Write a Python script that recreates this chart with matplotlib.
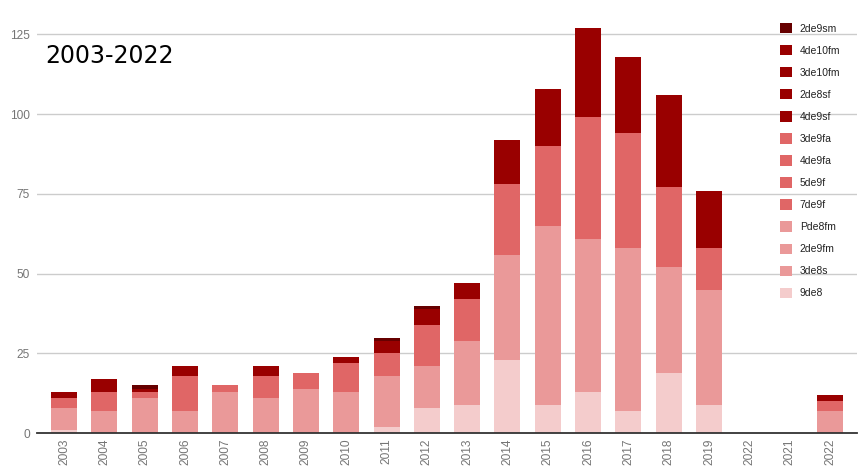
import matplotlib
matplotlib.use("Agg")
import matplotlib.pyplot as plt
from matplotlib.patches import Patch
import numpy as np

categories = ["2003", "2004", "2005", "2006", "2007", "2008", "2009", "2010",
              "2011", "2012", "2013", "2014", "2015", "2016", "2017", "2018",
              "2019", "2022", "2021", "2022"]

# stacking order bottom -> top
series_names = ["9de8", "3de8s", "2de9fm", "Pde8fm", "7de9f", "5de9f", "4de9fa",
                "3de9fa", "4de9sf", "2de8sf", "3de10fm", "4de10fm", "2de9sm"]

s_9de8 = [1, 0, 0, 0, 0, 0, 0, 0, 2, 8, 9, 23, 9, 13, 7, 19, 9, 0, 0, 0]
s_3de8s = [7, 7, 11, 7, 13, 11, 14, 13, 16, 13, 20, 33, 56, 48, 51, 33, 36, 0, 0, 7]
s_2de9fm = [0] * 20
s_Pde8fm = [0] * 20
s_7de9f = [3, 6, 2, 11, 2, 7, 5, 9, 7, 13, 13, 22, 25, 38, 36, 25, 13, 0, 0, 3]
s_5de9f = [0] * 20
s_4de9fa = [0] * 20
s_3de9fa = [0] * 20
s_4de9sf = [2, 4, 1, 3, 0, 3, 0, 2, 4, 5, 5, 14, 18, 28, 24, 29, 18, 0, 0, 2]
s_2de8sf = [0] * 20
s_3de10fm = [0] * 20
s_4de10fm = [0] * 20
s_2de9sm = [0, 0, 1, 0, 0, 0, 0, 0, 1, 1, 0, 0, 0, 0, 0, 0, 0, 0, 0, 0]

series_values = [s_9de8, s_3de8s, s_2de9fm, s_Pde8fm, s_7de9f, s_5de9f, s_4de9fa,
                 s_3de9fa, s_4de9sf, s_2de8sf, s_3de10fm, s_4de10fm, s_2de9sm]
series_colors = ["#f4cccc", "#ea9999", "#ea9999", "#ea9999", "#e06666", "#e06666",
                 "#e06666", "#e06666", "#990000", "#990000", "#990000", "#990000",
                 "#660000"]

y_ticks = [0, 25, 50, 75, 100, 125]

W, H = 858, 472
fig = plt.figure(figsize=(W / 100, H / 100), dpi=100)
ax = fig.add_axes([37 / W, 1 - 433.3 / H, 820 / W, (433.3 - 18.3) / H])

x = np.arange(len(categories))
bottom = np.zeros(len(categories))
for name, vals, col in zip(series_names, series_values, series_colors):
    v = np.array(vals, dtype=float)
    ax.bar(x, v, width=0.645, bottom=bottom, color=col, linewidth=0, label=name, zorder=3)
    bottom += v

ax.set_xlim(-0.67, len(categories) - 1 + 0.67)
ax.set_ylim(0, 130)
ax.set_yticks(y_ticks)
ax.set_yticklabels([str(t) for t in y_ticks])
ax.set_xticks(x)
ax.set_xticklabels(categories, rotation=90)

for lab in ax.get_yticklabels() + ax.get_xticklabels():
    lab.set_fontfamily("Liberation Sans")
    lab.set_fontsize(8.6)
    lab.set_color("#757575")
ax.tick_params(axis="both", length=0)
ax.tick_params(axis="y", pad=5)
ax.tick_params(axis="x", pad=4)

for t in y_ticks[1:]:
    ax.axhline(t, color="#cccccc", linewidth=1, zorder=1)
for s in ["top", "right", "left"]:
    ax.spines[s].set_visible(False)
ax.spines["bottom"].set_color("#333333")
ax.spines["bottom"].set_linewidth(1.3)
ax.spines["bottom"].set_zorder(4)

handles = [Patch(facecolor=c, edgecolor="none") for c in series_colors]
handles = handles[::-1]
labels = series_names[::-1]
leg = fig.legend(handles, labels, loc="upper left",
                 bbox_to_anchor=(780 / W, 1 - 23 / H), bbox_transform=fig.transFigure,
                 frameon=False, borderpad=0, borderaxespad=0,
                 handlelength=1.15, handleheight=1.15, labelspacing=1.09,
                 handletextpad=0.75,
                 prop=dict(family="Liberation Sans", size=7.5))
for t in leg.get_texts():
    t.set_color("#222222")

fig.text(45 / W, 1 - 62.7 / H, "2003-2022", fontsize=17, family="DejaVu Sans",
         color="black", va="baseline", ha="left")

fig.savefig("out.png", dpi=100)
